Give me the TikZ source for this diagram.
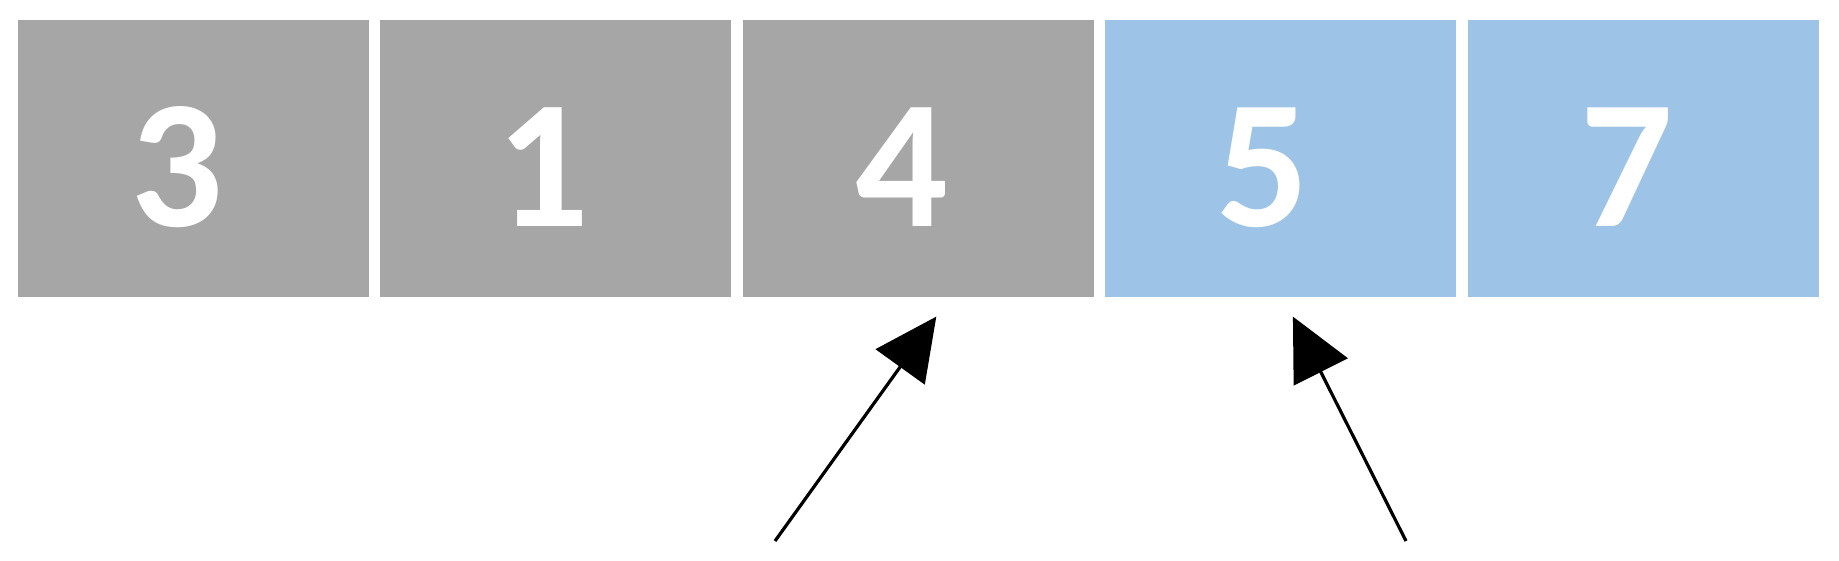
\documentclass[tikz,border=0pt]{standalone}
\usepackage{fontspec}
\setmainfont{Carlito}
\usetikzlibrary{positioning,arrows.meta}
\definecolor{cellgrey}{HTML}{A6A6A6}
\definecolor{cellblue}{HTML}{9DC3E6}

\begin{document}
\begin{tikzpicture}[x=1pt, y=1pt,
  cell/.style={rectangle, minimum width=351pt, minimum height=277pt,
               inner sep=0pt, outer sep=0pt},
  grey cell/.style={cell, fill=cellgrey},
  blue cell/.style={cell, fill=cellblue},
  digit/.style={text=white, font=\fontsize{183}{183}\selectfont\bfseries,
                inner sep=0pt, anchor=base, yshift=70pt},
  pointer/.style={-{Triangle[length=62pt, width=60pt]}, line width=3.2pt}]
  \useasboundingbox (0,0) rectangle (1839,-560);
  % the array
  \node[grey cell, anchor=north west] (c1) at (17.6,-19.6) {};
  \node[grey cell, right=11.6pt of c1] (c2) {};
  \node[grey cell, right=11.6pt of c2] (c3) {};
  \node[blue cell, right=11.6pt of c3] (c4) {};
  \node[blue cell, right=11.6pt of c4] (c5) {};
  \node[digit] (d1) at ([xshift=-16pt]c1.south) {3};
  \node[digit] (d2) at ([xshift=-13pt]c2.south) {1};
  \node[digit] (d3) at ([xshift=-16pt]c3.south) {4};
  \node[digit] (d4) at ([xshift=-18pt]c4.south) {5};
  \node[digit] (d5) at ([xshift=-17pt]c5.south) {7};
  % pointers
  \coordinate (p1) at (775,-541);
  \coordinate (p2) at (1406,-541);
  \draw[pointer] (p1) -- ([xshift=18pt, yshift=-20pt]c3.south);
  \draw[pointer] (p2) -- ([xshift=12pt, yshift=-20pt]c4.south);
\end{tikzpicture}
\end{document}
